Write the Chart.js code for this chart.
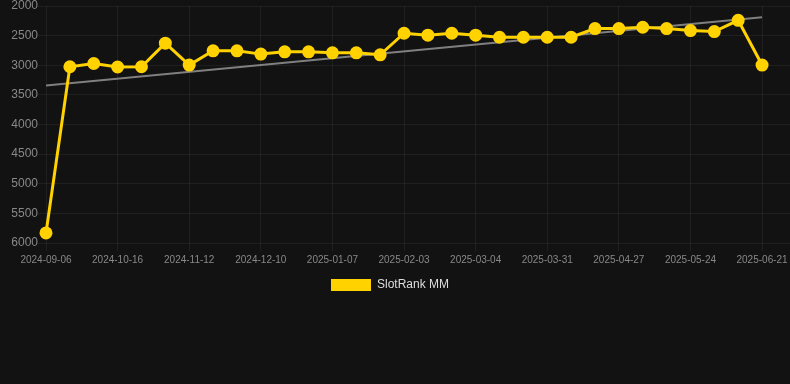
<!DOCTYPE html>
<html>
<head>
<meta charset="utf-8">
<script src="https://cdn.jsdelivr.net/npm/chart.js@4/dist/chart.umd.min.js"></script>
<style>
  html, body { margin: 0; padding: 0; background: #121212; }
  #wrap { position: relative; width: 790px; height: 301px; }
</style>
</head>
<body>
<div id="wrap"><canvas id="c"></canvas></div>
<script>
const dates = [
  "2024-09-06","2024-09-19","2024-10-03","2024-10-16","2024-10-25","2024-11-03",
  "2024-11-12","2024-11-21","2024-12-01","2024-12-10","2024-12-19","2024-12-28",
  "2025-01-07","2025-01-16","2025-01-25","2025-02-03","2025-02-13","2025-02-23",
  "2025-03-04","2025-03-13","2025-03-22","2025-03-31","2025-04-09","2025-04-18",
  "2025-04-27","2025-05-06","2025-05-15","2025-05-24","2025-06-02","2025-06-11",
  "2025-06-21"
];
const rankValues = [
  5830, 3025, 2970, 3030, 3025, 2627, 2997, 2756, 2756, 2812,
  2773, 2773, 2790, 2790, 2824, 2460, 2493, 2460, 2493, 2527,
  2527, 2527, 2527, 2381, 2381, 2359, 2381, 2415, 2431, 2241,
  2997
];
const trendValues = [3340, 2190]; // at first and last date
const shownTickIdx = [0, 3, 6, 9, 12, 15, 18, 21, 24, 27, 30];
const yTicks = [2000, 2500, 3000, 3500, 4000, 4500, 5000, 5500, 6000];
const seriesName = "SlotRank MM";

const FONT = "'Liberation Sans', Arial, Helvetica, sans-serif";
const rankPoints = rankValues.map((v, i) => ({ x: i, y: v }));
const trendPoints = [
  { x: 0, y: trendValues[0] },
  { x: dates.length - 1, y: trendValues[1] }
];

const legendShift = {
  id: 'legendShift',
  afterLayout(chart) {
    const l = chart.legend;
    if (l) { l.left -= 5; l.right -= 5; }
  }
};

new Chart(document.getElementById('c'), {
  type: 'line',
  plugins: [legendShift],
  data: {
    datasets: [
      {
        label: seriesName,
        data: rankPoints,
        borderColor: '#FFD200',
        backgroundColor: '#FFD200',
        borderWidth: 3,
        pointRadius: 5,
        pointHoverRadius: 5,
        pointBackgroundColor: '#FFD200',
        pointBorderColor: '#FFD200',
        tension: 0,
        clip: false,
        order: 1
      },
      {
        label: 'trend',
        data: trendPoints,
        borderColor: 'rgba(140,140,140,0.9)',
        backgroundColor: 'rgba(140,140,140,0.9)',
        borderWidth: 2,
        pointRadius: 0,
        tension: 0,
        order: 2
      }
    ]
  },
  options: {
    responsive: true,
    maintainAspectRatio: false,
    animation: false,
    layout: { padding: 0, autoPadding: false },
    plugins: {
      legend: {
        position: 'bottom',
        labels: {
          color: '#dddddd',
          font: { family: FONT, size: 12 },
          boxWidth: 40,
          boxHeight: 12,
          filter: (item) => item.text === seriesName,
          generateLabels: (chart) => {
            const items = Chart.defaults.plugins.legend.labels.generateLabels(chart);
            items.forEach(it => { it.lineWidth = 0; it.strokeStyle = 'rgba(0,0,0,0)'; });
            return items;
          }
        }
      },
      tooltip: { enabled: false }
    },
    scales: {
      x: {
        type: 'linear',
        min: 0,
        max: 31.17,
        afterBuildTicks: (scale) => {
          scale.ticks = shownTickIdx.map(v => ({ value: v }));
        },
        afterFit: (scale) => { scale.paddingLeft = 0; scale.paddingRight = 0; },
        ticks: {
          color: '#888888',
          font: { family: FONT, size: 10 },
          maxRotation: 0,
          autoSkip: false,
          callback: (v) => dates[v] || ''
        },
        grid: { color: 'rgba(255,255,255,0.06)', tickLength: 8 },
        border: { display: false }
      },
      y: {
        reverse: true,
        min: 2000,
        max: 6000,
        afterBuildTicks: (scale) => {
          scale.ticks = yTicks.map(v => ({ value: v }));
        },
        afterFit: (scale) => { scale.width = 46; },
        ticks: {
          color: '#888888',
          font: { family: FONT, size: 12, lineHeight: 1 },
          padding: 0,
          callback: (v) => String(v)
        },
        grid: { color: 'rgba(255,255,255,0.06)', tickLength: 8 },
        border: { display: false }
      }
    }
  }
});
</script>
</body>
</html>
